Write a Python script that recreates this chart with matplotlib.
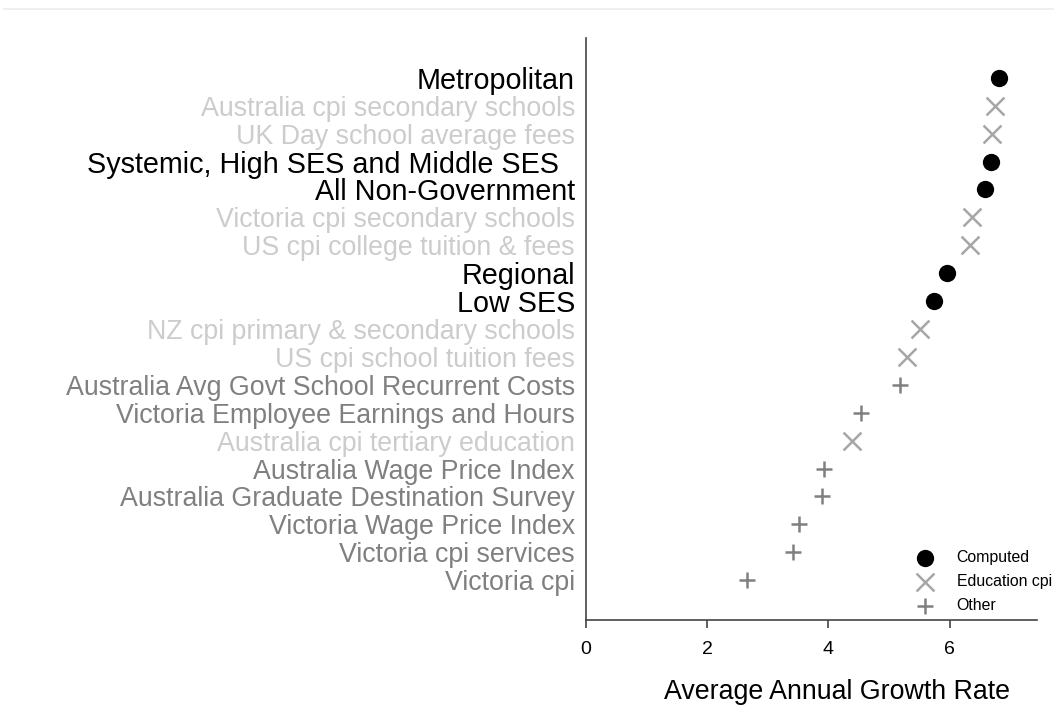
import matplotlib
matplotlib.use("Agg")
import matplotlib.pyplot as plt
from matplotlib.lines import Line2D

plt.rcParams['font.family'] = ['Liberation Sans', 'DejaVu Sans']

labels = [
    "Metropolitan",
    "Australia cpi secondary schools",
    "UK Day school average fees",
    "Systemic, High SES and Middle SES  ",
    "All Non-Government",
    "Victoria cpi secondary schools",
    "US cpi college tuition & fees",
    "Regional",
    "Low SES",
    "NZ cpi primary & secondary schools",
    "US cpi school tuition fees",
    "Australia Avg Govt School Recurrent Costs",
    "Victoria Employee Earnings and Hours",
    "Australia cpi tertiary education",
    "Australia Wage Price Index",
    "Australia Graduate Destination Survey",
    "Victoria Wage Price Index",
    "Victoria cpi services",
    "Victoria cpi",
]
values = [6.82, 6.75, 6.69, 6.68, 6.59, 6.36, 6.34, 5.96, 5.74, 5.51, 5.30,
          5.18, 4.53, 4.39, 3.93, 3.90, 3.51, 3.42, 2.65]
groups = ["Computed", "Education cpi", "Education cpi", "Computed", "Computed",
          "Education cpi", "Education cpi", "Computed", "Computed",
          "Education cpi", "Education cpi", "Other", "Other", "Education cpi",
          "Other", "Other", "Other", "Other", "Other"]

styles = {
    "Computed": dict(marker="o", color="black", s=155, lw=0, label_color="black", fs=20.7),
    "Education cpi": dict(marker="x", color="#a6a6a6", s=165, lw=1.8, label_color="#cccccc", fs=19.3),
    "Other": dict(marker="+", color="#808080", s=140, lw=1.8, label_color="#808080", fs=19.3),
}

fig = plt.figure(figsize=(10.54, 7.09), dpi=100)
W, H = 1054, 709
ax = fig.add_axes([586 / W, 1 - 620 / H, (1037 - 586) / W, (620 - 38) / H])

n = len(labels)
ypos = list(range(n))
for g in ["Computed", "Education cpi", "Other"]:
    st = styles[g]
    xs = [v for v, gg in zip(values, groups) if gg == g]
    ys = [y for y, gg in zip(ypos, groups) if gg == g]
    ax.scatter(xs, ys, marker=st["marker"], c=st["color"], s=st["s"],
               linewidths=st["lw"], label=g, zorder=3)

ax.set_ylim(n - 1 + 1.43, -1.43)
ax.set_xlim(0, 7.44)
ax.set_yticks(ypos)
ax.set_yticklabels(labels)
for t, g in zip(ax.get_yticklabels(), groups):
    t.set_color(styles[g]["label_color"])
    t.set_fontsize(styles[g]["fs"])
ax.tick_params(axis='y', length=0, pad=8)
ax.set_xticks([0, 2, 4, 6])
ax.tick_params(axis='x', labelsize=14, length=6, width=1.2, color="#444444", pad=9)
ax.set_xlabel("Average Annual Growth Rate", fontsize=19.3, labelpad=15)
ax.xaxis.label.set_x((836.5 - 586) / 451)

for side in ["top", "right"]:
    ax.spines[side].set_visible(False)
for side in ["left", "bottom"]:
    ax.spines[side].set_color("#444444")
    ax.spines[side].set_linewidth(1.2)

leg = ax.legend(loc="lower left", bbox_to_anchor=(917 / W, 1 - 613 / H),
                bbox_transform=fig.transFigure, frameon=False,
                fontsize=11.4, markerscale=1.0, handlelength=1.0,
                handletextpad=1.5, labelspacing=0.56, borderaxespad=0,
                borderpad=0)

fig.add_artist(Line2D([4 / W, 1], [1 - 9 / H, 1 - 9 / H], color="#ececec", lw=1.2))

fig.savefig("out.png", dpi=100)
